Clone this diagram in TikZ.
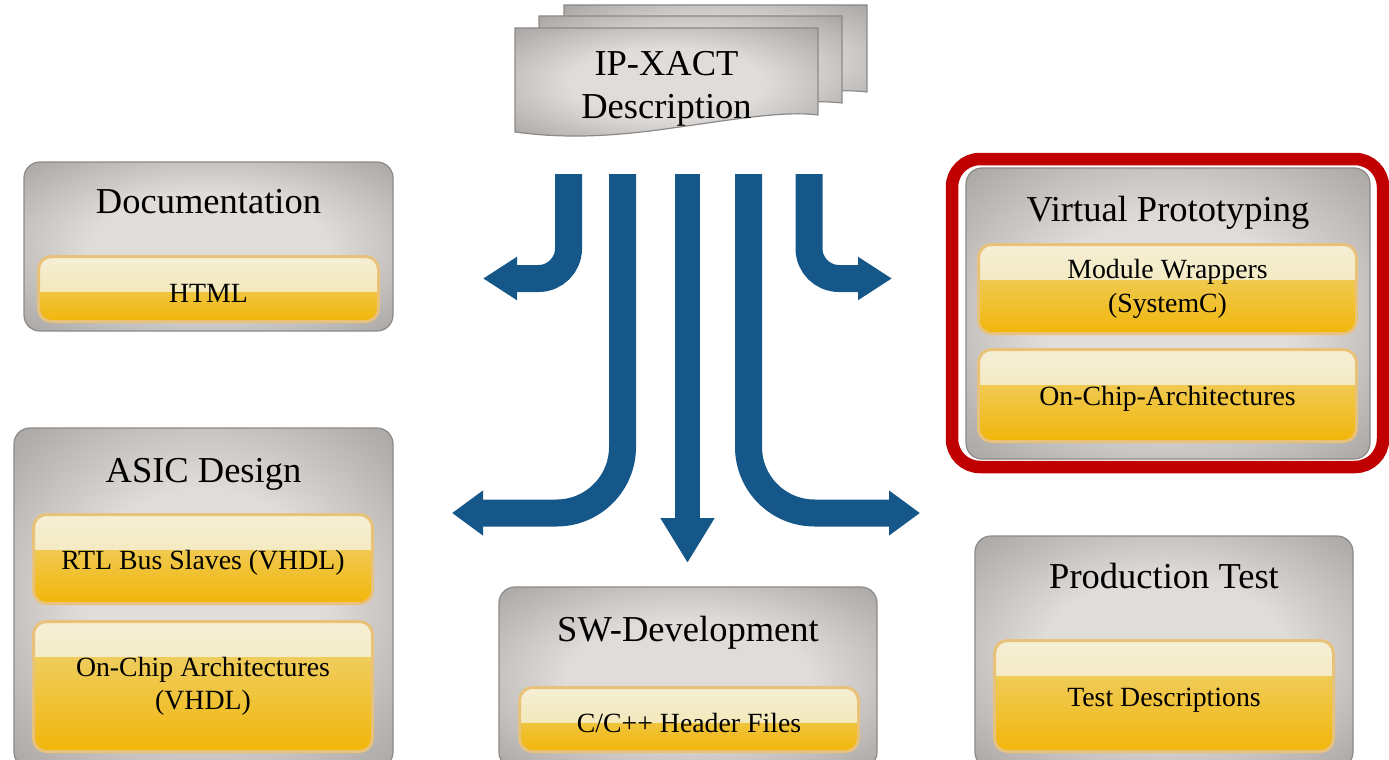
\documentclass[tikz,border=0pt]{standalone}
\usepackage{fontspec}
\setmainfont{Liberation Serif}
\usetikzlibrary{arrows.meta}

\definecolor{flowblue}{RGB}{20,87,136}
\definecolor{panellight}{RGB}{224,220,218}
\definecolor{panelmid}{RGB}{198,195,193}
\definecolor{paneldark}{RGB}{170,167,165}
\definecolor{paneledge}{RGB}{140,138,137}
\definecolor{leafedge}{RGB}{232,193,122}
\definecolor{leaftop}{RGB}{245,239,214}
\definecolor{leafhigh}{RGB}{242,227,164}
\definecolor{leafmid}{RGB}{238,213,124}
\definecolor{leafgold}{RGB}{242,182,10}
\definecolor{hlred}{RGB}{192,0,0}

\pgfdeclareradialshading{panelglow}{\pgfpoint{0bp}{0bp}}{color(0bp)=(panellight); color(16bp)=(panellight); color(25bp)=(panelmid); color(35bp)=(paneldark); color(50bp)=(paneldark)}

\newcommand{\titlefont}{\fontsize{36.5}{43}\selectfont}
\newcommand{\leaffont}{\fontsize{27.8}{33.5}\selectfont}

\begin{document}
\begin{tikzpicture}[x=1pt, y=-1pt,
    panel/.style={draw=paneledge, line width=1.2pt, rounded corners=16pt, shade, shading=panelglow, inner sep=0pt},
    title/.style={anchor=base, font=\titlefont},
    leaf/.style={draw=leafedge, line width=3pt, rounded corners=13pt, align=center, font=\leaffont, inner sep=0pt,
      top color=leafmid, bottom color=leafgold,
      execute at begin node={\rule{0pt}{26pt}},
      path picture={\shade[sharp corners, top color=leaftop, bottom color=leafhigh] (path picture bounding box.north west) rectangle ([yshift=-35pt]path picture bounding box.north east);}},
    sheet/.style={draw=paneledge, line width=1.2pt, shade, shading=panelglow},
    flow/.style={draw=flowblue, line width=27pt, rounded corners=30pt, -{Triangle[width=41pt, length=34pt]}},
    wideflow/.style={flow, rounded corners=66pt, -{Triangle[width=43pt, length=31pt]}},
    downflow/.style={draw=flowblue, line width=25pt, -{Triangle[width=51pt, length=45pt]}}]
  \useasboundingbox (0,0) rectangle (1389,760);
  \clip (0,0) rectangle (1389,760);

  % IP-XACT source, three stacked sheets
  \foreach \dx/\dy in {49/-23, 24/-12, 0/0}
    \path[sheet, shift={(\dx,\dy)}] (515,28) -- (818,28) -- (818,115) .. controls (780,110) and (720,122) .. (650,131) .. controls (600,137) and (560,138) .. (515,132) -- cycle;
  \node[font=\titlefont, align=center, inner sep=0pt] (ipxact) at (666.5,88.5) {IP-XACT\\Description};

  % flows
  \coordinate (s1) at (568.5,174); \coordinate (e1) at (483,278.5);
  \coordinate (s2) at (622.5,174); \coordinate (e2) at (452,513);
  \coordinate (s3) at (687.5,174); \coordinate (e3) at (687.5,563);
  \coordinate (s4) at (748.5,174); \coordinate (e4) at (920,513);
  \coordinate (s5) at (809,174);   \coordinate (e5) at (892,278.5);
  \draw[flow] (s1) |- (e1);
  \draw[wideflow] (s2) |- (e2);
  \draw[downflow] (s3) -- (e3);
  \draw[wideflow] (s4) |- (e4);
  \draw[flow] (s5) |- (e5);

  % Documentation
  \node[panel, minimum width=369pt, minimum height=169pt] (docpanel) at (208.5,246.5) {};
  \node[title] (doctitle) at (208.5,213) {Documentation};
  \node[leaf, minimum width=340pt, minimum height=65pt] (html) at (208.5,289) {HTML};

  % Virtual Prototyping
  \node[draw=hlred, line width=12.5pt, rounded corners=28pt, minimum width=431pt, minimum height=308pt] (vphl) at (1167.5,313) {};
  \node[panel, minimum width=404pt, minimum height=291pt] (vppanel) at (1168,313.5) {};
  \node[title] (vptitle) at (1168,221) {Virtual Prototyping};
  \node[leaf, minimum width=378pt, minimum height=89pt] (wrap) at (1167.5,289) {Module Wrappers\\(SystemC)};
  \node[leaf, minimum width=378pt, minimum height=92pt] (vparch) at (1167.5,395.5) {On-Chip-Architectures};

  % ASIC Design
  \node[panel, minimum width=379pt, minimum height=340pt] (asicpanel) at (203.5,598) {};
  \node[title] (asictitle) at (203.5,482) {ASIC Design};
  \node[leaf, minimum width=339pt, minimum height=89pt] (rtl) at (203,559) {RTL Bus Slaves (VHDL)};
  \node[leaf, minimum width=339pt, minimum height=130pt] (asicarch) at (203,686.5) {On-Chip Architectures\\(VHDL)};

  % SW-Development
  \node[panel, minimum width=378pt, minimum height=181pt] (swpanel) at (688,677.5) {};
  \node[title] (swtitle) at (688,641) {SW-Development};
  \node[leaf, minimum width=339pt, minimum height=64pt] (header) at (689,719.5) {C/C++ Header Files};

  % Production Test
  \node[panel, minimum width=378pt, minimum height=232pt] (ptpanel) at (1164,652) {};
  \node[title] (pttitle) at (1164,588) {Production Test};
  \node[leaf, minimum width=339pt, minimum height=111pt] (testdesc) at (1164,696) {Test Descriptions};
\end{tikzpicture}
\end{document}
